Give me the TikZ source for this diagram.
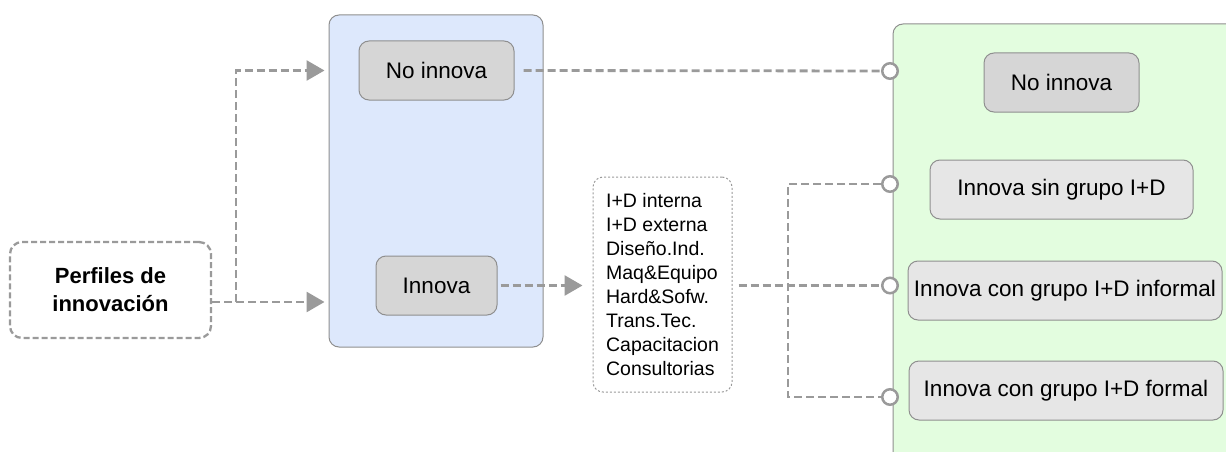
\documentclass[tikz,border=0pt]{standalone}
\usepackage{fontspec}
\setmainfont{Liberation Sans}
\usetikzlibrary{arrows.meta}
\definecolor{lineg}{HTML}{9A9A9A}
\definecolor{bordg}{HTML}{8F8F8F}
\definecolor{bluef}{HTML}{DDE8FC}
\definecolor{greenf}{HTML}{E3FDDF}
\definecolor{boxd}{HTML}{D6D6D6}
\definecolor{boxl}{HTML}{E6E6E6}
\begin{document}
\begin{tikzpicture}[x=1pt,y=-1pt,
  container/.style={draw=bordg, line width=1pt, rounded corners=10pt, inner sep=0pt},
  gbox/.style={draw=bordg, line width=1pt, rounded corners=10pt, fill=boxd, inner sep=0pt,
    font=\fontsize{22.5}{27}\selectfont, minimum height=59pt},
  lbox/.style={gbox, fill=boxl},
  conn/.style={draw=lineg, line width=2.8pt, dash pattern=on 8pt off 4pt},
  tipped/.style={-{Triangle[length=18pt,width=20pt]}},
  endc/.style={circle, draw=lineg, line width=2.5pt, fill=white, minimum size=15.5pt, inner sep=0pt}
]
\useasboundingbox (0,0) rectangle (1226,452);
\clip (0,0) rectangle (1226,452);

% containers
\node[container, fill=bluef, minimum width=214pt, minimum height=332pt] (blue) at (436,181) {};
\node[container, fill=greenf, minimum width=360pt, minimum height=460pt] (green) at (1073,254) {};

% left box
\node[draw=lineg, line width=2.3pt, dash pattern=on 6pt off 3pt, rounded corners=12pt, fill=white,
  minimum width=201pt, minimum height=96pt, align=center,
  font=\fontsize{22}{28}\selectfont\bfseries] (perf) at (110.5,290) {Perfiles de\\innovación};

% blue boxes
\node[gbox, minimum width=155pt] (noin1) at (436.5,70.5) {No innova};
\node[gbox, minimum width=121pt] (inn) at (436.5,285.5) {Innova};

% list
\node[draw=lineg, line width=1pt, dash pattern=on 2pt off 2pt, rounded corners=10pt, fill=white,
  minimum width=139pt, minimum height=215pt, align=left, inner sep=0pt,
  font=\fontsize{19.5}{24}\selectfont] (list) at (662.5,284.5)
  {I+D interna\\I+D externa\\Diseño.Ind.\\Maq\&Equipo\\Hard\&Sofw.\\Trans.Tec.\\Capacitacion\\Consultorias};

% green boxes
\node[gbox, minimum width=155pt] (gno) at (1061.5,82.5) {No innova};
\node[lbox, minimum width=263pt] (gsin) at (1061.5,189.5) {Innova sin grupo I+D};
\node[lbox, minimum width=314pt] (ginf) at (1065,290.5) {Innova con grupo I+D informal};
\node[lbox, minimum width=314pt] (gfor) at (1066,390.5) {Innova con grupo I+D formal};

% circles
\node[endc] (c1) at (890,71) {};
\node[endc] (c2) at (890,184) {};
\node[endc] (c3) at (890,285.5) {};
\node[endc] (c4) at (890,397) {};

% connectors
\coordinate (br) at (236,302);
\coordinate (v) at (788,0);
\draw[conn, tipped, shorten >=4pt] ([yshift=-12pt]perf.east) -- ([yshift=-12pt]perf.east -| blue.west);
\draw[conn, tipped, shorten >=4pt] (br) |- (blue.west |- noin1.west);
\draw[conn, shorten <=9pt] (noin1.east) -- (c1);
\draw[conn, tipped, shorten <=3pt, shorten >=10pt] (inn.east) -- (list.west |- inn.east);
\draw[conn, shorten <=6pt] (list.east |- c3) -- (c3);
\draw[conn] (c2) -- (c2 -| v) -- (c4 -| v) -- (c4);
\end{tikzpicture}
\end{document}
